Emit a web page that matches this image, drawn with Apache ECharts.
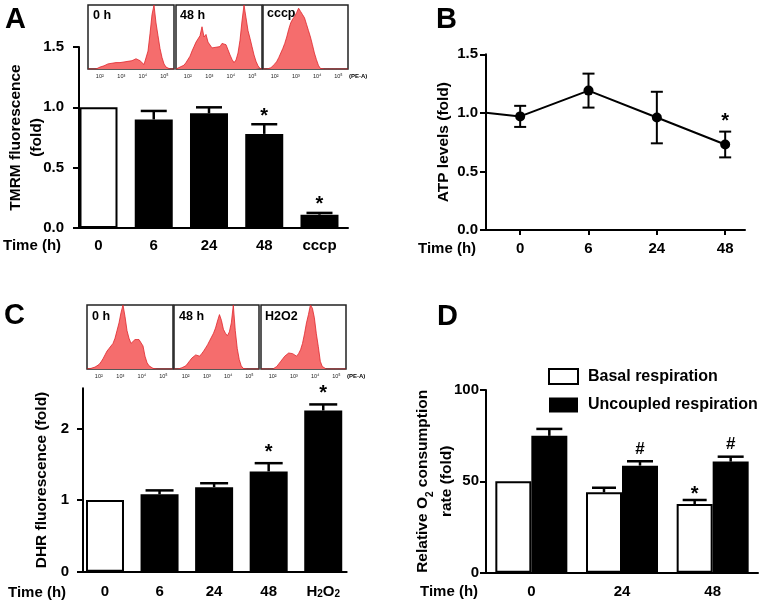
<!DOCTYPE html>
<html><head><meta charset="utf-8">
<script src="https://cdn.jsdelivr.net/npm/echarts@6/dist/echarts.min.js"></script>
<style>html,body{margin:0;padding:0;background:#fff}#c{width:766px;height:606px}</style>
</head><body><div id="c"></div>
<script>
// ---------------- DATA ----------------
// Panel A: TMRM fluorescence (fold)
const tmrmCategories = ['0', '6', '24', '48', 'cccp'];
const tmrmMean = [1.00, 0.90, 0.95, 0.78, 0.11];
const tmrmErr  = [0, 0.07, 0.05, 0.08, 0.015];
const tmrmSig  = ['', '', '', '*', '*'];

// Panel B: ATP levels (fold)
const atpCategories = ['0', '6', '24', '48'];
const atpMean = [0.97, 1.19, 0.96, 0.73];
const atpErr  = [0.09, 0.145, 0.22, 0.11];
const atpSig  = ['', '', '', '*'];
const atpBaseline = 1.0;

// Panel C: DHR fluorescence (fold)
const dhrCategories = ['0', '6', '24', '48', 'H2O2'];
const dhrMean = [1.00, 1.08, 1.18, 1.40, 2.25];
const dhrErr  = [0, 0.055, 0.055, 0.115, 0.085];
const dhrSig  = ['', '', '', '*', '*'];

// Panel D: relative O2 consumption
const o2Categories = ['0', '24', '48'];
const basalMean = [50, 44, 37.6];
const basalErr  = [0, 2.5, 2.2];
const basalSig  = ['', '', '*'];
const uncoupledMean = [74.9, 58.6, 60.8];
const uncoupledErr  = [3.8, 2.4, 2.7];
const uncoupledSig  = ['', '#', '#'];

// Flow cytometry histograms (relative counts along PE-A, log decades)
const histTicks = [2, 3, 4, 5];
const histTickLabels = ['10²', '10³', '10⁴', '10⁵'];
const histTmrm0h  = [0,0,0,0,0,1,3,4,5,6,8,7,9,8,10,9,10,9,11,10,12,11,13,12,16,18,13,10,7,10,28,55,85,100,72,52,32,18,8,3,1,0,0,0];
const histTmrm48h = [0,0,3,5,6,10,12,20,28,35,42,45,52,66,50,54,42,40,33,30,34,36,35,40,42,38,30,22,15,10,14,25,45,75,100,80,60,48,35,22,12,5,1,0];
const histTmrmCccp = [0,0,0,0,2,4,8,12,18,25,32,40,50,62,72,78,82,88,95,90,85,80,70,60,50,38,25,15,6,1,0,0,0,0,0,0,0,0,0,0,0,0,0,0];
const histDhr0h   = [0,0,1,2,3,5,7,11,16,22,28,32,35,40,48,60,72,88,100,82,60,48,40,42,46,43,46,44,36,20,10,5,2,1,0,0,0,0,0,0,0,0,0,0];
const histDhr48h  = [0,0,0,1,2,3,5,9,13,17,20,22,21,20,24,28,33,38,44,50,56,64,75,85,76,62,56,52,58,72,100,60,32,15,5,1,0,0,0,0,0,0,0,0];
const histDhrH2o2 = [0,0,0,0,0,0,0,1,4,8,12,16,20,23,25,22,24,21,20,24,30,40,55,72,85,100,95,80,55,35,12,4,1,0,0,0,0,0,0,0,0,0,0,0];
const histLabels = ['0 h', '48 h', 'cccp', '0 h', '48 h', 'H2O2'];

// ---------------- STYLE / LAYOUT ----------------
const FONT = 'Liberation Sans, Arial, Helvetica, sans-serif';
const HX_MIN = 1.45, HX_MAX = 5.45;
const chart = echarts.init(document.getElementById('c'), null, {renderer: 'canvas'});

const axisLineStyle = {show: true, onZero: false, lineStyle: {color: '#000', width: 2}};
const tickStyle = {show: true, inside: false, length: 6, lineStyle: {color: '#000', width: 2}};
const labelFont = {fontFamily: FONT, fontWeight: 'bold', fontSize: 15, color: '#000'};
const nameFont = {fontFamily: FONT, fontWeight: 'bold', fontSize: 15.5, color: '#000', lineHeight: 20};

const whiteBar = {color: '#fff', borderColor: '#000', borderWidth: 2};
const blackBar = {color: '#000'};

const grids = [
  {left: 79, top: 47, width: 269, height: 181},        // A
  {left: 486, top: 54.3, width: 259, height: 175.7},   // B
  {left: 83, top: 388.3, width: 263.7, height: 183.4}, // C
  {left: 486, top: 390, width: 272, height: 182.7},    // D
  {left: 88, top: 5, width: 86, height: 64, show: true, borderColor: '#222', borderWidth: 1.5, backgroundColor: '#fff'},
  {left: 176, top: 5, width: 86, height: 64, show: true, borderColor: '#222', borderWidth: 1.5, backgroundColor: '#fff'},
  {left: 263, top: 5, width: 85, height: 64, show: true, borderColor: '#222', borderWidth: 1.5, backgroundColor: '#fff'},
  {left: 87, top: 305, width: 86, height: 64, show: true, borderColor: '#222', borderWidth: 1.5, backgroundColor: '#fff'},
  {left: 174, top: 305, width: 85, height: 64, show: true, borderColor: '#222', borderWidth: 1.5, backgroundColor: '#fff'},
  {left: 261, top: 305, width: 85, height: 64, show: true, borderColor: '#222', borderWidth: 1.5, backgroundColor: '#fff'}
].map(g => Object.assign({outerBoundsMode: 'none', containLabel: false}, g));

function catLabel(cats) {
  return v => {
    const t = cats[Math.round(v)];
    if (t === 'H2O2') return '{n|H}{s|2}{n|O}{s|2}';
    return t;
  };
}
const subRich = {
  n: {fontFamily: FONT, fontWeight: 'bold', fontSize: 15, color: '#000'},
  s: {fontFamily: FONT, fontWeight: 'bold', fontSize: 10, color: '#000', verticalAlign: 'bottom', lineHeight: 10}
};

const xAxes = [
  {gridIndex: 0, type: 'value', min: -0.353, max: 4.516, axisLine: axisLineStyle, axisTick: {show: false}, splitLine: {show: false},
   axisLabel: Object.assign({customValues: [0,1,2,3,4], formatter: catLabel(tmrmCategories), margin: 10}, labelFont)},
  {gridIndex: 1, type: 'value', min: -0.5, max: 3.29, axisLine: axisLineStyle,
   axisTick: Object.assign({customValues: [0,1,2,3]}, tickStyle, {length: 5}), splitLine: {show: false},
   axisLabel: Object.assign({customValues: [0,1,2,3], formatter: catLabel(atpCategories), margin: 11}, labelFont)},
  {gridIndex: 2, type: 'value', min: -0.403, max: 4.43, axisLine: axisLineStyle, axisTick: {show: false}, splitLine: {show: false},
   axisLabel: Object.assign({customValues: [0,1,2,3,4], formatter: catLabel(dhrCategories), margin: 13, rich: subRich}, labelFont)},
  {gridIndex: 3, type: 'category', data: o2Categories, axisLine: axisLineStyle, axisTick: {show: false}, splitLine: {show: false},
   axisLabel: Object.assign({margin: 12}, labelFont)}
];
const yAxes = [
  {gridIndex: 0, type: 'value', min: 0, max: 1.5, interval: 0.5, axisLine: axisLineStyle, axisTick: tickStyle, splitLine: {show: false},
   axisLabel: Object.assign({formatter: v => v.toFixed(1), margin: 15}, labelFont),
   name: 'TMRM fluorescence\n(fold)', nameLocation: 'middle', nameGap: 32, nameMoveOverlap: false,
   nameTextStyle: Object.assign({}, nameFont, {lineHeight: 21})},
  {gridIndex: 1, type: 'value', min: 0, max: 1.5, interval: 0.5, axisLine: axisLineStyle, axisTick: tickStyle, splitLine: {show: false},
   axisLabel: Object.assign({formatter: v => v.toFixed(1), margin: 8}, labelFont),
   name: 'ATP levels (fold)', nameLocation: 'middle', nameGap: 32, nameMoveOverlap: false, nameTextStyle: nameFont},
  {gridIndex: 2, type: 'value', min: 0, max: 2.56, axisLine: axisLineStyle,
   axisTick: Object.assign({customValues: [0,1,2]}, tickStyle), splitLine: {show: false},
   axisLabel: Object.assign({customValues: [0,1,2], margin: 14}, labelFont),
   name: 'DHR fluorescence (fold)', nameLocation: 'middle', nameGap: 31, nameMoveOverlap: false, nameTextStyle: nameFont},
  {gridIndex: 3, type: 'value', min: 0, max: 100, interval: 50, axisLine: axisLineStyle, axisTick: tickStyle, splitLine: {show: false},
   axisLabel: Object.assign({margin: 7}, labelFont),
   name: '{n|Relative O}{s|2}{n| consumption}\n{n|rate (fold)}', nameLocation: 'middle', nameGap: 27, nameMoveOverlap: false,
   nameTextStyle: Object.assign({}, nameFont, {lineHeight: 24, rich: {
     n: {fontFamily: FONT, fontWeight: 'bold', fontSize: 15.5, color: '#000', lineHeight: 24},
     s: {fontFamily: FONT, fontWeight: 'bold', fontSize: 10, color: '#000', verticalAlign: 'bottom', lineHeight: 17}
   }})}
];

// histogram axes
for (let h = 0; h < 6; h++) {
  xAxes.push({gridIndex: 4 + h, type: 'value', min: HX_MIN, max: HX_MAX, axisLine: {show: false}, axisTick: {show: false},
    splitLine: {show: false},
    axisLabel: {customValues: histTicks, formatter: v => histTickLabels[histTicks.indexOf(Math.round(v))],
      fontSize: 5.5, fontFamily: FONT, color: '#222', margin: 4}});
  yAxes.push({gridIndex: 4 + h, type: 'value', min: 0, max: 100, show: false});
}

function errorBars(axisIdx, xs, means, errs, sigs, opts) {
  return {
    type: 'custom', xAxisIndex: axisIdx, yAxisIndex: axisIdx, z: 10, silent: true,
    data: means.map((m, i) => [xs[i], m, errs[i]]),
    renderItem(params, api) {
      const xv = api.value(0), m = api.value(1), e = api.value(2);
      const i = params.dataIndex;
      const p0 = api.coord([xv, m]);
      const p1 = api.coord([xv, m + e]);
      const pl = api.coord([xv, m - e]);
      const cx = p0[0] + (opts.offset || 0);
      const st = {stroke: '#000', lineWidth: opts.lw};
      const ch = [];
      if (e > 0) {
        ch.push({type: 'line', shape: {x1: cx, y1: opts.both ? pl[1] : p0[1], x2: cx, y2: p1[1]}, style: st});
        ch.push({type: 'line', shape: {x1: cx - opts.cap / 2, y1: p1[1], x2: cx + opts.cap / 2, y2: p1[1]}, style: st});
        if (opts.both) ch.push({type: 'line', shape: {x1: cx - opts.cap / 2, y1: pl[1], x2: cx + opts.cap / 2, y2: pl[1]}, style: st});
      }
      const s = sigs[i];
      if (s) {
        const isStar = s === '*';
        ch.push({type: 'text', x: cx, y: p1[1] - (isStar ? opts.starGap : opts.hashGap),
          style: {text: s, textAlign: 'center', textVerticalAlign: 'middle', fill: '#000',
            font: 'bold ' + (isStar ? 20 : 17) + 'px ' + FONT}});
      }
      return {type: 'group', children: ch};
    }
  };
}

const idx = a => a.map((_, i) => i);

const series = [
  // A
  {type: 'bar', xAxisIndex: 0, yAxisIndex: 0, barWidth: 38,
   data: tmrmMean.map((v, i) => ({value: [i, v], itemStyle: i === 0 ? whiteBar : blackBar}))},
  errorBars(0, idx(tmrmMean), tmrmMean, tmrmErr, tmrmSig, {lw: 2.5, cap: 26, starGap: 8, hashGap: 12}),
  // B
  {type: 'line', xAxisIndex: 1, yAxisIndex: 1, symbol: 'circle', symbolSize: 10,
   itemStyle: {color: '#000'}, lineStyle: {color: '#000', width: 2},
   data: [{value: [-0.5, atpBaseline], symbol: 'none'}].concat(atpMean.map((v, i) => [i, v]))},
  errorBars(1, idx(atpMean), atpMean, atpErr, atpSig, {lw: 2, cap: 12, both: true, starGap: 10, hashGap: 12}),
  // C
  {type: 'bar', xAxisIndex: 2, yAxisIndex: 2, barWidth: 38,
   data: dhrMean.map((v, i) => ({value: [i, v], itemStyle: i === 0 ? whiteBar : blackBar}))},
  errorBars(2, idx(dhrMean), dhrMean, dhrErr, dhrSig, {lw: 2.5, cap: 28, starGap: 11, hashGap: 12}),
  // D
  {type: 'bar', name: 'Basal respiration', xAxisIndex: 3, yAxisIndex: 3, barWidth: 36, barGap: '0%',
   itemStyle: whiteBar, data: basalMean},
  {type: 'bar', name: 'Uncoupled respiration', xAxisIndex: 3, yAxisIndex: 3, barWidth: 36, barGap: '0%',
   itemStyle: blackBar, data: uncoupledMean},
  errorBars(3, idx(basalMean), basalMean, basalErr, basalSig, {lw: 2.5, cap: 24, offset: -18, starGap: 6, hashGap: 12}),
  errorBars(3, idx(uncoupledMean), uncoupledMean, uncoupledErr, uncoupledSig, {lw: 2.5, cap: 26, offset: 18, starGap: 8, hashGap: 12})
];

const hists = [histTmrm0h, histTmrm48h, histTmrmCccp, histDhr0h, histDhr48h, histDhrH2o2];
hists.forEach((h, k) => {
  series.push({type: 'line', xAxisIndex: 4 + k, yAxisIndex: 4 + k, showSymbol: false, symbol: 'none', smooth: false,
    lineStyle: {color: '#e0262c', width: 0.8}, areaStyle: {color: '#f56d6d', opacity: 1},
    data: h.map((v, i) => [HX_MIN + i * (HX_MAX - HX_MIN) / (h.length - 1), v])});
});

function txt(x, y, text, size, opt) {
  return Object.assign({type: 'text', x: x, y: y, z: 100, style: Object.assign({text: text, fill: '#000',
    font: 'bold ' + size + 'px ' + FONT, textAlign: 'left', textVerticalAlign: 'middle'}, opt || {})});
}
const graphics = [
  txt(5, 20, 'A', 29), txt(436, 20, 'B', 29), txt(4, 316, 'C', 29), txt(437, 317, 'D', 29),
  txt(3, 246, 'Time (h)', 15), txt(418, 249, 'Time (h)', 15), txt(8, 593, 'Time (h)', 15), txt(420, 592, 'Time (h)', 15),
  txt(349, 76, '(PE-A)', 6), txt(347, 376, '(PE-A)', 6)
];
[[93, 16], [180, 16], [267, 14], [92, 317], [179, 317], [265, 317]].forEach((p, k) => {
  graphics.push(txt(p[0], p[1], histLabels[k], 12.5));
});

chart.setOption({
  animation: false,
  backgroundColor: '#fff',
  textStyle: {fontFamily: FONT},
  grid: grids,
  xAxis: xAxes,
  yAxis: yAxes,
  legend: {data: ['Basal respiration', 'Uncoupled respiration'], orient: 'vertical', left: 548, top: 368,
    itemWidth: 29, itemHeight: 15, itemGap: 12, icon: 'rect', selectedMode: false, padding: 0,
    textStyle: {fontFamily: FONT, fontWeight: 'bold', fontSize: 16, color: '#000', padding: [0, 0, 0, 5]}},
  graphic: graphics,
  series: series
});
</script>
</body></html>
